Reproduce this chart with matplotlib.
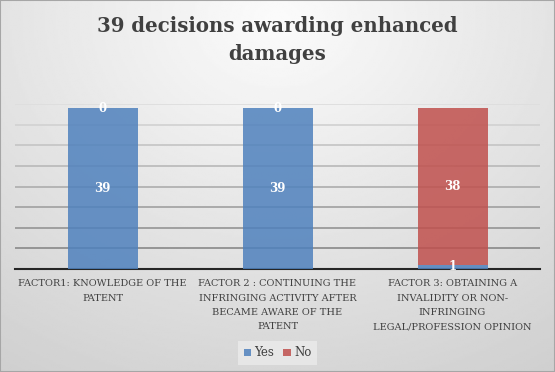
import matplotlib.pyplot as plt
import numpy as np

categories = ['FACTOR1: KNOWLEDGE OF THE\nPATENT',
              'FACTOR 2 : CONTINUING THE\nINFRINGING ACTIVITY AFTER\nBECAME AWARE OF THE\nPATENT',
              'FACTOR 3: OBTAINING A\nINVALIDITY OR NON-\nINFRINGING\nLEGAL/PROFESSION OPINION']
yes = [39, 39, 1]
no = [0, 0, 38]

plt.rcParams['font.family'] = ['DejaVu Serif']

fig = plt.figure(figsize=(5.55, 3.72), dpi=100)

# gray gradient background
bg = fig.add_axes([0, 0, 1, 1], zorder=-10)
yy, xx = np.mgrid[0:1:200j, 0:1:300j]
r = np.sqrt(((xx - 0.5) * 1.1) ** 2 + ((yy - 0.05) * 0.9) ** 2)
bg.imshow(0.985 - 0.17 * r, cmap='gray', vmin=0, vmax=1, aspect='auto',
          extent=[0, 1, 1, 0])
bg.set_xlim(0, 1)
bg.set_ylim(1, 0)
bg.axis('off')
fig.patches.append(plt.Rectangle((0, 0), 1, 1, transform=fig.transFigure,
                                 fill=False, edgecolor='#a6a6a6', lw=1.5))

ax = fig.add_axes([15 / 555, 1 - 269 / 372, 525 / 555, 165 / 372])
ax.patch.set_alpha(0)
x = np.arange(len(categories))
b1 = ax.bar(x, yes, width=0.4, color='#4f81bd', alpha=0.85, label='Yes', zorder=3)
b2 = ax.bar(x, no, width=0.4, bottom=yes, color='#c0504d', alpha=0.85, label='No', zorder=3)

for i in range(len(x)):
    ax.text(x[i], yes[i] / 2, str(yes[i]), ha='center', va='center',
            color='white', fontsize=8.5, fontweight='bold', zorder=4)
    ax.text(x[i], yes[i] + no[i] / 2, str(no[i]), ha='center', va='center',
            color='white', fontsize=8.5, fontweight='bold', zorder=4)

ax.set_xlim(-0.5, 2.5)
ax.set_ylim(0, 40)
# gridlines fade from light at top to darker near the axis
levels = np.arange(5, 41, 5)
for lv in levels:
    g = 0.56 + 0.31 * (lv - 5) / 35
    ax.axhline(lv, color=(g, g, g), lw=1.3, zorder=0)
ax.set_yticks([])
ax.tick_params(axis='x', bottom=False, pad=4)
ax.set_xticks(x)
ax.set_xticklabels(categories, fontsize=7, color='#404040', linespacing=1.75)
for s in ['top', 'right', 'left']:
    ax.spines[s].set_visible(False)
ax.spines['bottom'].set_color('#262626')
ax.spines['bottom'].set_linewidth(1.5)

fig.text(0.5, 1 - 40 / 372, '39 decisions awarding enhanced\ndamages', ha='center',
         va='center', fontsize=14.2, fontweight='bold', color='#404040',
         linespacing=1.5)

leg = fig.legend(handles=[b1, b2], labels=['Yes', 'No'], loc='center',
                 bbox_to_anchor=(0.5, 1 - 353 / 372), ncol=2, frameon=True,
                 fontsize=8.5, handlelength=0.6, handleheight=0.6,
                 handletextpad=0.3, columnspacing=0.8, borderpad=0.5,
                 fancybox=False)
leg.get_frame().set_facecolor('#ebebeb')
leg.get_frame().set_edgecolor('none')
for t in leg.get_texts():
    t.set_color('#404040')

fig.savefig('out.png', dpi=100)
